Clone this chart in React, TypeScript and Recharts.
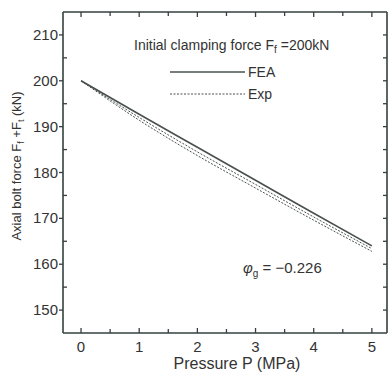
import { LineChart, Line, XAxis, YAxis, ReferenceLine, Label } from 'recharts';

// values
const pressure = [0, 1, 2, 3, 4, 5];
const feaForce = [200, 192.7, 185.5, 178.3, 171.1, 164.0];
const expForceA = [200, 192.0, 184.5, 177.4, 170.3, 163.4];
const expForceB = [200, 191.4, 183.7, 176.6, 169.6, 162.8];

const xTicks = [0, 0.5, 1, 1.5, 2, 2.5, 3, 3.5, 4, 4.5, 5];
const yTicks = [150, 155, 160, 165, 170, 175, 180, 185, 190, 195, 200, 205, 210];
const xDomain = [-0.31, 5.26];
const yDomain = [145, 215];

const data = pressure.map((p, i) => ({
  p,
  fea: feaForce[i],
  expA: expForceA[i],
  expB: expForceB[i],
}));

const W = 388;
const H = 372;
const TOP = 12;
const BOTTOM = 333;
const LEFT = 63;
const RIGHT = 387;
const FRAME = '#34403f';
const TEXT = '#333';
const LINE = '#4a5050';
const FONT = '"Liberation Sans", Arial, sans-serif';

const XTick = ({ x, payload }: any) => {
  const major = Number.isInteger(payload.value);
  const len = major ? 5 : 4;
  return (
    <g>
      <line x1={x} y1={BOTTOM} x2={x} y2={BOTTOM - len} stroke={FRAME} strokeWidth={1.3} />
      <line x1={x} y1={TOP} x2={x} y2={TOP + len} stroke={FRAME} strokeWidth={1.3} />
      {major && (
        <text x={x} y={352} textAnchor="middle" fontSize={15} fill={TEXT} fontFamily={FONT}>
          {payload.value}
        </text>
      )}
    </g>
  );
};

const YTick = ({ y, payload }: any) => {
  const major = payload.value % 10 === 0;
  return (
    <g>
      {major ? (
        <line x1={LEFT - 4} y1={y} x2={LEFT} y2={y} stroke={FRAME} strokeWidth={1.3} />
      ) : (
        <line x1={LEFT} y1={y} x2={LEFT + 4} y2={y} stroke={FRAME} strokeWidth={1.3} />
      )}
      <line x1={RIGHT} y1={y} x2={RIGHT - 4} y2={y} stroke={FRAME} strokeWidth={1.3} />
      {major && (
        <text x={LEFT - 5} y={y + 5} textAnchor="end" fontSize={15} fill={TEXT} fontFamily={FONT}>
          {payload.value}
        </text>
      )}
    </g>
  );
};

const Annotations = () => (
  <svg width={W} height={H} style={{ position: 'absolute', left: 0, top: 0, pointerEvents: 'none' }}>
    <text x={134} y={50} fontSize={14} fill={TEXT} fontFamily={FONT}>
      Initial clamping force F
      <tspan fontSize={10} dy={3}>f</tspan>
      <tspan dy={-3}> =200kN</tspan>
    </text>
    <line x1={170} x2={245} y1={72} y2={72} stroke={LINE} strokeWidth={1.6} />
    <text x={248} y={77} fontSize={14} fill={TEXT} fontFamily={FONT}>FEA</text>
    <line x1={170} x2={245} y1={94} y2={94} stroke={LINE} strokeWidth={1} strokeDasharray="2 1.5" />
    <text x={248} y={99} fontSize={14} fill={TEXT} fontFamily={FONT}>Exp</text>
    <text x={243} y={273} fontSize={15} fill={TEXT} fontFamily={FONT}>
      <tspan fontStyle="italic">φ</tspan>
      <tspan fontSize={10} dy={4}>g</tspan>
      <tspan dy={-4}> = −0.226</tspan>
    </text>
  </svg>
);

export default function App() {
  return (
    <div style={{ position: 'absolute', left: 0, top: 0, width: W, height: H, background: '#fff' }}>
      <LineChart width={W} height={H} data={data} margin={{ top: TOP, right: W - RIGHT, bottom: 0, left: 0 }}>
        <XAxis
          dataKey="p"
          type="number"
          domain={xDomain}
          ticks={xTicks}
          allowDataOverflow
          height={H - BOTTOM}
          tickLine={false}
          axisLine={{ stroke: FRAME, strokeWidth: 1.6 }}
          tick={<XTick />}
          interval={0}
        >
          <Label
            content={() => (
              <text x={237} y={369} textAnchor="middle" fontSize={16} fill={TEXT} fontFamily={FONT}>
                Pressure P (MPa)
              </text>
            )}
          />
        </XAxis>
        <YAxis
          type="number"
          domain={yDomain}
          ticks={yTicks}
          allowDataOverflow
          width={LEFT}
          tickLine={false}
          axisLine={{ stroke: FRAME, strokeWidth: 1.6 }}
          tick={<YTick />}
          interval={0}
        >
          <Label
            content={() => (
              <text
                x={21}
                y={166}
                transform="rotate(-90 21 166)"
                textAnchor="middle"
                fontSize={13}
                fill={TEXT}
                fontFamily={FONT}
              >
                Axial bolt force F<tspan fontSize={9} dy={3}>f</tspan>
                <tspan dy={-3}> +F</tspan>
                <tspan fontSize={9} dy={3}>t</tspan>
                <tspan dy={-3}> (kN)</tspan>
              </text>
            )}
          />
        </YAxis>
        <ReferenceLine y={yDomain[1]} stroke={FRAME} strokeWidth={1.6} />
        <ReferenceLine x={xDomain[1]} stroke={FRAME} strokeWidth={1.6} />
        <Line
          dataKey="fea"
          name="FEA"
          type="monotone"
          stroke={LINE}
          strokeWidth={1.6}
          dot={false}
          isAnimationActive={false}
        />
        <Line
          dataKey="expA"
          name="Exp"
          type="monotone"
          stroke={LINE}
          strokeWidth={1}
          strokeDasharray="2 1.5"
          dot={false}
          isAnimationActive={false}
        />
        <Line
          dataKey="expB"
          name="Exp"
          type="monotone"
          stroke={LINE}
          strokeWidth={1}
          strokeDasharray="2 1.5"
          dot={false}
          isAnimationActive={false}
        />
      </LineChart>
      <Annotations />
    </div>
  );
}
